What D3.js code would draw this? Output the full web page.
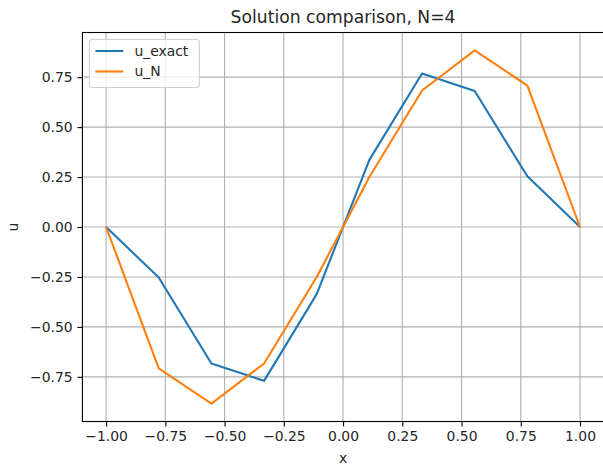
<!DOCTYPE html>
<html>
<head>
<meta charset="utf-8">
<script src="https://cdn.jsdelivr.net/npm/d3@7"></script>
<style>
  body { margin: 0; background: #fff; }
  text { font-family: "DejaVu Sans", sans-serif; fill: #262626; }
</style>
</head>
<body>
<svg id="chart" width="603" height="468"></svg>
<script>
// nodes and values
const xNodes = [-1, -7/9, -5/9, -3/9, -1/9, 1/9, 3/9, 5/9, 7/9, 1];
const uExact = [0, -0.253, -0.683, -0.77, -0.336, 0.336, 0.768, 0.681, 0.254, 0];
const uN = [0, -0.708, -0.884, -0.683, -0.25, 0.25, 0.683, 0.884, 0.708, 0];
const xTicks = [-1, -0.75, -0.5, -0.25, 0, 0.25, 0.5, 0.75, 1];
const yTicks = [-0.75, -0.5, -0.25, 0, 0.25, 0.5, 0.75];
const seriesNames = ["u_exact", "u_N"];
const seriesColors = ["#1f77b4", "#ff7f0e"];

const margin = { top: 32.5, right: 0, bottom: 46.5, left: 82.4 };
const width = 603 - margin.left - margin.right + 0.7;
const height = 468 - margin.top - margin.bottom;

const svg = d3.select("#chart");
const g = svg.append("g").attr("transform", `translate(${margin.left},${margin.top})`);

const x = d3.scaleLinear().domain([-1.1, 1.1]).range([0, width]);
const y = d3.scaleLinear().domain([-0.9735, 0.9735]).range([height, 0]);

// grid
g.append("g").selectAll("line").data(xTicks).join("line")
  .attr("x1", d => x(d)).attr("x2", d => x(d))
  .attr("y1", 0).attr("y2", height)
  .attr("stroke", "#b0b0b0").attr("stroke-width", 1.1);
g.append("g").selectAll("line").data(yTicks).join("line")
  .attr("x1", 0).attr("x2", width)
  .attr("y1", d => y(d)).attr("y2", d => y(d))
  .attr("stroke", "#b0b0b0").attr("stroke-width", 1.1);

// axes
const xAxis = g.append("g").attr("transform", `translate(0,${height})`)
  .call(d3.axisBottom(x).tickValues(xTicks).tickSize(4.9).tickPadding(4.9)
    .tickFormat(d => d3.format(".2f")(d).replace("-", "\u2212")));
const yAxis = g.append("g")
  .call(d3.axisLeft(y).tickValues(yTicks).tickSize(4.9).tickPadding(4.9)
    .tickFormat(d => d3.format(".2f")(d).replace("-", "\u2212")));
[xAxis, yAxis].forEach(a => {
  a.select(".domain").remove();
  a.selectAll(".tick line").attr("stroke", "#000").attr("stroke-width", 1.1);
  a.selectAll(".tick text").attr("font-size", 13.9).attr("fill", "#262626")
    .attr("font-family", "DejaVu Sans");
});

// lines
const line = d3.line().x((d, i) => x(xNodes[i])).y(d => y(d));
[uExact, uN].forEach((s, k) => {
  g.append("path").datum(s)
    .attr("fill", "none")
    .attr("stroke", seriesColors[k])
    .attr("stroke-width", 2.1)
    .attr("stroke-linejoin", "round")
    .attr("d", line);
});

// spines
g.append("rect").attr("x", 0).attr("y", 0).attr("width", width).attr("height", height)
  .attr("fill", "none").attr("stroke", "#000").attr("stroke-width", 1.1);

// legend
const lg = g.append("g").attr("transform", "translate(7,7)");
lg.append("rect").attr("width", 110).attr("height", 48).attr("rx", 3)
  .attr("fill", "#fff").attr("fill-opacity", 0.8)
  .attr("stroke", "#d0d0d0").attr("stroke-width", 1.1);
seriesNames.forEach((name, i) => {
  const yy = 11.5 + i * 20.5;
  lg.append("line").attr("x1", 6).attr("x2", 34).attr("y1", yy).attr("y2", yy)
    .attr("stroke", seriesColors[i]).attr("stroke-width", 2.1);
  lg.append("text").attr("x", 45).attr("y", yy).attr("dy", "0.35em")
    .attr("font-size", 13.9).text(name);
});

// title and labels
svg.append("text").attr("x", margin.left + width / 2).attr("y", 23)
  .attr("text-anchor", "middle").attr("font-size", 17.2).text("Solution comparison, N=4");
svg.append("text").attr("x", margin.left + width / 2).attr("y", 463)
  .attr("text-anchor", "middle").attr("font-size", 13.9).text("x");
svg.append("text").attr("transform", `translate(18,${margin.top + height / 2}) rotate(-90)`)
  .attr("text-anchor", "middle").attr("font-size", 13.9).text("u");
</script>
</body>
</html>
